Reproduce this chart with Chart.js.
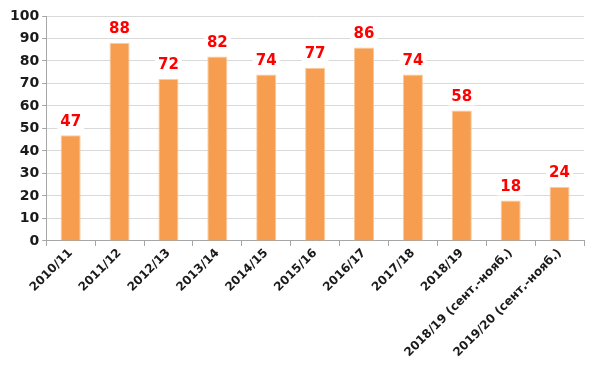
<!DOCTYPE html>
<html>
<head>
<meta charset="utf-8">
<script src="https://cdn.jsdelivr.net/npm/chart.js@4"></script>
<style>
html,body{margin:0;padding:0;background:#fff;}
#wrap{width:600px;height:375px;}
</style>
</head>
<body>
<div id="wrap"><canvas id="c" width="600" height="375"></canvas></div>
<script>
const categories = ["2010/11","2011/12","2012/13","2013/14","2014/15","2015/16","2016/17","2017/18","2018/19","2018/19 (сент.-нояб.)","2019/20 (сент.-нояб.)"];
const values = [47, 88, 72, 82, 74, 77, 86, 74, 58, 18, 24];
const yTicks = [0,10,20,30,40,50,60,70,80,90,100];

const labelPlugin = {
  id: 'valueLabels',
  afterDatasetsDraw(chart) {
    const ctx = chart.ctx;
    const meta = chart.getDatasetMeta(0);
    ctx.save();
    ctx.font = 'bold 15px "DejaVu Sans", Verdana, sans-serif';
    ctx.textAlign = 'center';
    ctx.textBaseline = 'bottom';
    meta.data.forEach((bar, i) => {
      const t = String(values[i]);
      const w = ctx.measureText(t).width;
      ctx.fillStyle = '#ffffff';
      ctx.fillRect(bar.x - w/2 - 3, bar.y - 24, w + 6, 19);
      ctx.fillStyle = '#ff0000';
      ctx.fillText(t, bar.x, bar.y - 6);
    });
    ctx.restore();
  }
};

new Chart(document.getElementById('c'), {
  type: 'bar',
  data: {
    labels: categories,
    datasets: [{
      data: values,
      backgroundColor: '#f79d4f',
      borderColor: '#fbc99a',
      borderWidth: {left:1,right:1,top:1,bottom:0},
      barPercentage: 0.82,
      categoryPercentage: 0.5
    }]
  },
  options: {
    responsive: false,
    animation: false,
    layout: { padding: { top: 16, right: 16, left: 7, bottom: 15 } },
    plugins: { legend: { display: false }, tooltip: { enabled: false } },
    scales: {
      x: {
        grid: { drawOnChartArea: false, color: '#a6a6a6', tickLength: 5, offset: true },
        border: { color: '#a6a6a6' },
        ticks: {
          color: '#1a1a1a',
          font: { family: '"DejaVu Sans", Verdana, sans-serif', weight: 'bold', size: 12 },
          maxRotation: 45, minRotation: 45, autoSkip: false, padding: 0
        }
      },
      y: {
        min: 0, max: 100,
        afterBuildTicks(axis) { axis.ticks = yTicks.map(v => ({ value: v })); },
        grid: { color: '#d9d9d9', tickLength: 4, tickColor: '#a6a6a6' },
        border: { color: '#a6a6a6' },
        ticks: {
          color: '#1a1a1a',
          font: { family: '"DejaVu Sans", Verdana, sans-serif', weight: 'bold', size: 14 },
          padding: 3
        }
      }
    }
  },
  plugins: [labelPlugin]
});
</script>
</body>
</html>
